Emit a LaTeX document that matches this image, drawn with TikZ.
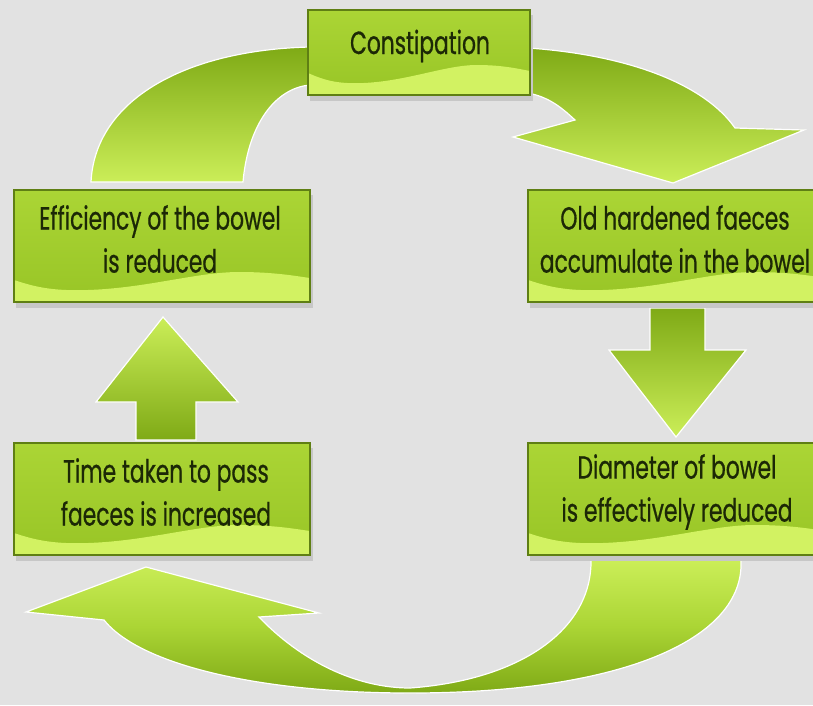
\documentclass[tikz,border=0pt]{standalone}
\usepackage{fontspec}
\newfontfamily\boxfont{Poppins}[FakeStretch=0.68,FakeBold=0.6]
\definecolor{bg}{HTML}{E2E2E2}
\definecolor{gtop}{HTML}{ABD535}
\definecolor{gbot}{HTML}{98C526}
\definecolor{glight}{HTML}{D2F262}
\definecolor{gborder}{HTML}{5F7F14}
\definecolor{gdark}{HTML}{7FAA16}
\definecolor{gpale}{HTML}{CBEE58}
\definecolor{txt}{HTML}{1C2806}
\tikzset{
  boxframe/.style={draw=gborder, line width=1.2pt, rectangle, inner sep=0pt},
  boxtext/.style={text=txt, align=center, font=\boxfont\fontsize{32}{43}\selectfont, inner sep=0pt},
  blockarrow/.style={draw=white, line width=1.2pt},
}
\newcommand\gbox[6]{%
  \fill[black!22] (#2+2,#3+5) rectangle (#4+3,#5+6);
  \shade[top color=gtop, bottom color=gbot] (#2,#3) rectangle (#4,#5);
  \begin{scope}
    \clip (#2,#3) rectangle (#4,#5);
    \fill[glight] (#2,#5-22)
      .. controls ({#2+0.08*(#4-#2)},#5-14) and ({#2+0.14*(#4-#2)},#5-11) .. ({#2+0.25*(#4-#2)},#5-12)
      .. controls ({#2+0.45*(#4-#2)},#5-14) and ({#2+0.62*(#4-#2)},#5-30) .. ({#2+0.76*(#4-#2)},#5-30)
      .. controls ({#2+0.88*(#4-#2)},#5-30) and ({#2+0.95*(#4-#2)},#5-26) .. (#4,#5-24)
      -- (#4,#5) -- (#2,#5) -- cycle;
  \end{scope}
  \node[boxframe, minimum width={(#4-#2)*1pt}, minimum height={(#5-#3)*1pt}] (#1) at ({(#2+#4)/2},{(#3+#5)/2}) {};
}
\begin{document}
\begin{tikzpicture}[x=1pt,y=-1pt]
\clip (0,0) rectangle (813,705);
\fill[bg] (0,0) rectangle (813,705);

% curved band: Efficiency -> Constipation
\shadedraw[blockarrow, top color=gdark, bottom color=gpale]
  (310,47) .. controls (185,50) and (95,100) .. (91,182)
  -- (243,182) .. controls (248,125) and (275,88) .. (310,85) -- cycle;

% curved arrow: Constipation -> Old hardened faeces
\shadedraw[blockarrow, top color=gdark, bottom color=gpale]
  (528,48) .. controls (630,55) and (705,85) .. (735,128)
  -- (804,130) -- (673,183) -- (513,137) -- (575,120)
  .. controls (560,106) and (548,97) .. (528,93) -- cycle;

% straight arrow down: Old -> Diameter
\shadedraw[blockarrow, top color=gdark, bottom color=gpale]
  (650,308) -- (705,308) -- (705,350) -- (746,350) -- (676,437)
  -- (609,350) -- (650,350) -- cycle;

% straight arrow up: Time -> Efficiency
\shadedraw[blockarrow, top color=gpale, bottom color=gdark]
  (136,440) -- (196,440) -- (196,402) -- (238,402) -- (163,317)
  -- (96,402) -- (136,402) -- cycle;

% bottom curved arrow: Diameter -> Time
\shadedraw[blockarrow, top color=gpale, bottom color=gdark, middle color=gtop]
  (741,560) .. controls (745,640) and (620,693) .. (410,693)
  .. controls (260,693) and (140,665) .. (104,620)
  -- (26,612) -- (146,567) -- (319,613) -- (259,617)
  .. controls (300,660) and (355,688) .. (410,688)
  .. controls (520,680) and (592,630) .. (591,560) -- cycle;

% boxes
\gbox{cons}{308}{10}{530}{95}{}
\gbox{eff}{14}{190}{310}{302}{}
\gbox{old}{528}{190}{826}{302}{}
\gbox{time}{14}{443}{310}{555}{}
\gbox{diam}{528}{443}{826}{555}{}

\node[boxtext] (cons-t) at (420,46) {Constipation};
\node[boxtext] (eff-t) at (160,239) {Efficiency of the bowel\\is reduced};
\node[boxtext] (old-t) at (675,239) {Old hardened faeces\\accumulate in the bowel};
\node[boxtext] (time-t) at (166,492) {Time taken to pass\\faeces is increased};
\node[boxtext] (diam-t) at (677,492) {Diameter of bowel\\is effectively reduced};
\end{tikzpicture}
\end{document}
